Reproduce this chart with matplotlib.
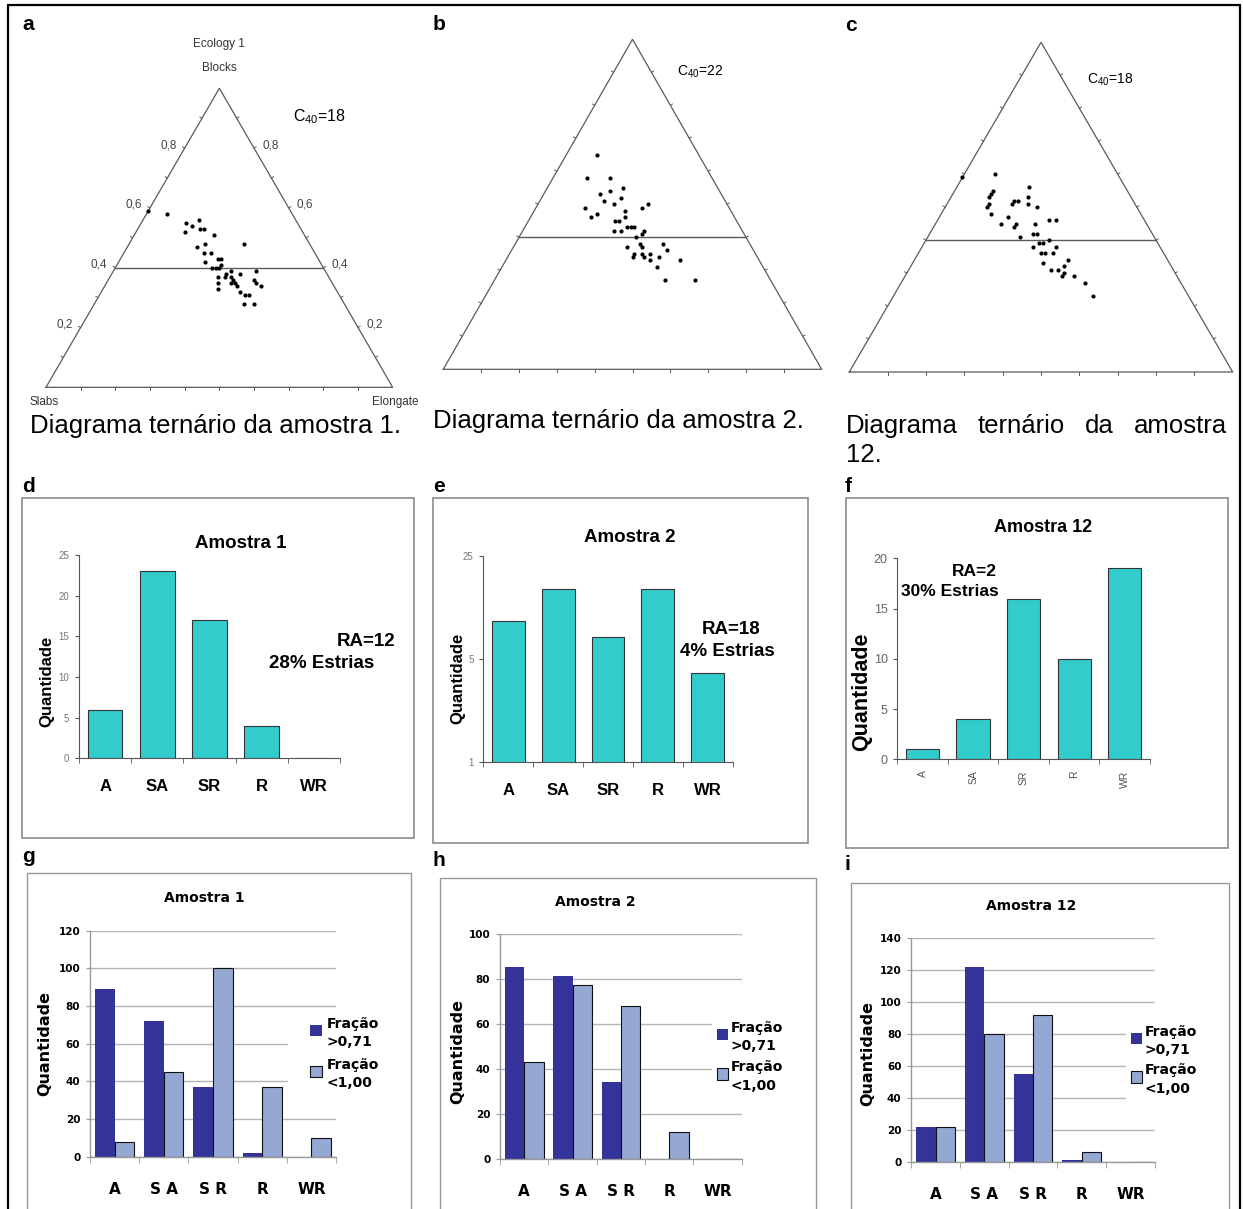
import numpy as np
import matplotlib.pyplot as plt
from matplotlib.patches import Rectangle

W, H = 1243, 1209
plt.rcParams['font.family'] = ['Liberation Sans', 'DejaVu Sans']
plt.rcParams['mathtext.fontset'] = 'custom'
plt.rcParams['mathtext.rm'] = 'Liberation Sans'

# ternary data: fraction of Blocks and Elongate per clast (Slabs = rest)
blocks_1 = [0.59, 0.58, 0.55, 0.56, 0.54, 0.52, 0.53, 0.53, 0.51, 0.48, 0.47, 0.45, 0.45, 0.48,
            0.42, 0.43, 0.43, 0.41, 0.40, 0.40, 0.40, 0.39, 0.38, 0.37, 0.37, 0.37, 0.36, 0.38,
            0.39, 0.35, 0.35, 0.35, 0.34, 0.33, 0.36, 0.35, 0.34, 0.32, 0.31, 0.31, 0.28, 0.28]
elong_1 = [0.00, 0.06, 0.13, 0.16, 0.15, 0.14, 0.18, 0.19, 0.23, 0.22, 0.20, 0.23, 0.25, 0.33,
           0.25, 0.28, 0.29, 0.30, 0.30, 0.28, 0.29, 0.34, 0.33, 0.33, 0.35, 0.31, 0.36, 0.37,
           0.41, 0.32, 0.36, 0.37, 0.38, 0.33, 0.42, 0.43, 0.45, 0.40, 0.42, 0.43, 0.43, 0.46]
blocks_2 = [0.65, 0.58, 0.58, 0.53, 0.54, 0.55, 0.51, 0.50, 0.52, 0.49, 0.47, 0.46, 0.48, 0.49,
            0.50, 0.45, 0.46, 0.45, 0.42, 0.42, 0.43, 0.43, 0.43, 0.42, 0.40, 0.41, 0.38, 0.37,
            0.37, 0.38, 0.36, 0.35, 0.35, 0.35, 0.34, 0.34, 0.34, 0.33, 0.33, 0.31, 0.27, 0.27]
elong_2 = [0.08, 0.09, 0.15, 0.15, 0.17, 0.20, 0.17, 0.20, 0.21, 0.13, 0.17, 0.16, 0.24, 0.28,
           0.29, 0.24, 0.25, 0.23, 0.24, 0.26, 0.27, 0.28, 0.29, 0.32, 0.31, 0.32, 0.33, 0.30,
           0.34, 0.39, 0.41, 0.33, 0.35, 0.37, 0.33, 0.36, 0.40, 0.38, 0.46, 0.41, 0.45, 0.53]
blocks_12 = [0.59, 0.60, 0.55, 0.54, 0.53, 0.51, 0.50, 0.48, 0.45, 0.56, 0.53, 0.52, 0.52, 0.51,
             0.51, 0.50, 0.47, 0.44, 0.45, 0.45, 0.46, 0.46, 0.41, 0.42, 0.42, 0.39, 0.39, 0.40,
             0.38, 0.38, 0.36, 0.36, 0.36, 0.34, 0.33, 0.31, 0.32, 0.31, 0.30, 0.29, 0.29, 0.27, 0.23]
elong_12 = [0.00, 0.08, 0.10, 0.10, 0.10, 0.11, 0.11, 0.13, 0.17, 0.19, 0.20, 0.18, 0.17, 0.17,
            0.21, 0.24, 0.18, 0.21, 0.21, 0.26, 0.29, 0.31, 0.24, 0.27, 0.28, 0.30, 0.31, 0.32,
            0.35, 0.29, 0.32, 0.33, 0.35, 0.40, 0.34, 0.37, 0.40, 0.39, 0.41, 0.41, 0.44, 0.48, 0.52]
c40_values = ['18', '22', '18']

# roundness counts
categories = ['A', 'SA', 'SR', 'R', 'WR']
counts_1 = [6, 23, 17, 4, 0]
counts_2 = [9, 15, 7, 15, 4]
counts_12 = [1, 4, 16, 10, 19]

cat_labels_g = ['A', 'S A', 'S R', 'R', 'WR']
frac_hi_1 = [89, 72, 37, 2, 0]
frac_lo_1 = [8, 45, 100, 37, 10]
frac_hi_2 = [85, 81, 34, 0, 0]
frac_lo_2 = [43, 77, 68, 12, 0]
frac_hi_12 = [22, 122, 55, 1, 0]
frac_lo_12 = [22, 80, 92, 6, 0]
legend_labels = ['Fração\n>0,71', 'Fração\n<1,00']

fig = plt.figure(figsize=(W / 100, H / 100), dpi=100)


def px_axes(x0, y0, x1, y1):
    return fig.add_axes([x0 / W, 1 - y1 / H, (x1 - x0) / W, (y1 - y0) / H])


def ftext(x, y, s, **kw):
    return fig.text(x / W, 1 - y / H, s, **kw)


def frame(x0, y0, x1, y1, color, lw, fill=False, z=2):
    r = Rectangle((x0 / W, 1 - y1 / H), (x1 - x0) / W, (y1 - y0) / H,
                  transform=fig.transFigure, fill=fill, facecolor='white',
                  edgecolor=color if not fill else 'none', lw=lw, zorder=z)
    fig.patches.append(r)


def ternary(box, blocks, elong, c40, c40_xy, c40_size, labels=False):
    x0, ytop, x1, ybase = box
    ax = px_axes(x0, ytop, x1, ybase)
    ax.set_xlim(0, 1)
    ax.set_ylim(0, 1)
    ax.axis('off')
    wpx, hpx = x1 - x0, ybase - ytop
    col = '#5a5a5a'
    ax.plot([0, 0.5, 1, 0], [0, 1, 0, 0], color=col, lw=0.9, clip_on=False)
    ax.plot([0.2, 0.8], [0.4, 0.4], color=col, lw=1.0, clip_on=False)
    L = 2.5
    n = np.hypot(hpx, wpx / 2)
    nx, ny = -hpx / n, (wpx / 2) / n
    for f in np.arange(1, 10) / 10:
        ax.plot([f, f], [0, -L / hpx], color=col, lw=0.7, clip_on=False)
        ax.plot([f / 2, f / 2 + nx * L / wpx], [f, f + ny * L / hpx], color=col, lw=0.7, clip_on=False)
        ax.plot([1 - f / 2, 1 - f / 2 - nx * L / wpx], [f, f + ny * L / hpx], color=col, lw=0.7, clip_on=False)
    if labels:
        for f in [0.2, 0.4, 0.6, 0.8]:
            s = f'{f:.1f}'.replace('.', ',')
            ax.annotate(s, (f / 2, f), xytext=(-8, 3), textcoords='offset pixels',
                        ha='right', va='center', fontsize=8.5, color='#444444')
            ax.annotate(s, (1 - f / 2, f), xytext=(8, 3), textcoords='offset pixels',
                        ha='left', va='center', fontsize=8.5, color='#444444')
    b = np.array(blocks)
    e = np.array(elong)
    ax.plot(e + b / 2, b, 'o', color='black', ms=3.0, mew=0, clip_on=False)
    ftext(c40_xy[0], c40_xy[1], r'C$_{\mathregular{40}}$=' + c40, fontsize=c40_size,
          ha='left', va='center')
    return ax


# ---- row 1: ternary diagrams
ternary((46, 88.3, 392.7, 387.3), blocks_1, elong_1, c40_values[0], (293, 117), 11.5, labels=True)
ternary((443.3, 39.3, 821.7, 369.3), blocks_2, elong_2, c40_values[1], (677, 72), 10)
ternary((849.3, 42.3, 1232.7, 372), blocks_12, elong_12, c40_values[2], (1087, 80), 10)

ftext(219, 44, 'Ecology 1', fontsize=8.5, color='#333333', ha='center', va='center')
ftext(219, 68, 'Blocks', fontsize=8.5, color='#333333', ha='center', va='center')
ftext(29, 402, 'Slabs', fontsize=8.5, color='#333333', ha='left', va='center')
ftext(418, 402, 'Elongate', fontsize=8.5, color='#333333', ha='right', va='center')

cap = dict(fontsize=18.5, va='baseline')
ftext(30, 433, 'Diagrama ternário da amostra 1.', ha='left', **cap)
ftext(433, 428, 'Diagrama ternário da amostra 2.', ha='left', **cap)
# justified caption line for panel c
words = [ftext(846, 433, w, ha='left', **cap) for w in ['Diagrama', 'ternário', 'da', 'amostra']]
renderer = fig.canvas.get_renderer()
widths = [t.get_window_extent(renderer).width for t in words]
gap = (1227 - 846 - sum(widths)) / (len(words) - 1)
xpos = 846
for t, w in zip(words, widths):
    t.set_x(xpos / W)
    xpos += w + gap
ftext(846, 462, '12.', ha='left', **cap)

for s, x, y in [('a', 22, 30), ('b', 433, 30), ('c', 845, 31), ('d', 22, 492), ('e', 433, 492),
                ('f', 845, 492), ('g', 22, 862), ('h', 432, 866), ('i', 845, 870)]:
    ftext(x, y, s, fontsize=15, fontweight='bold', ha='left', va='baseline')


# ---- row 2: turquoise bar charts
def simple_bars(box, counts, yticks, tick_size, tick_color, log=False, rot=False):
    ax = px_axes(*box)
    x = np.arange(len(categories))
    ax.bar(x, counts, width=0.66, color='#33CCCC', edgecolor='#333333', lw=0.8, zorder=2)
    ax.set_xlim(-0.5, len(categories) - 0.5)
    if log:
        ax.set_yscale('log')
        ax.set_ylim(1, yticks[-1])
        ax.yaxis.set_minor_locator(plt.NullLocator())
    else:
        ax.set_ylim(0, yticks[-1])
    ax.set_yticks(yticks)
    ax.set_yticklabels([str(v) for v in yticks])
    for sp in ['top', 'right']:
        ax.spines[sp].set_visible(False)
    for sp in ['left', 'bottom']:
        ax.spines[sp].set_color('#555555')
        ax.spines[sp].set_linewidth(0.8)
        ax.spines[sp].set_zorder(3)
    ax.tick_params(axis='y', length=3, color='#555555', labelsize=tick_size,
                   labelcolor=tick_color, pad=4)
    ax.set_xticks(x)
    ax.set_xticks(np.arange(len(categories) + 1) - 0.5, minor=True)
    ax.tick_params(axis='x', which='minor', length=3.5, color='#555555')
    if rot:
        ax.set_xticklabels(categories, rotation=90, fontsize=7.5, color='#555555')
        ax.tick_params(axis='x', which='major', length=0, pad=8)
    else:
        ax.set_xticklabels(categories, fontsize=12, fontweight='bold')
        ax.tick_params(axis='x', which='major', length=0, pad=15)
    ax.set_facecolor('none')
    return ax


frame(22, 498, 414, 838, '#8c8c8c', 1.2)
frame(433, 498, 808, 843, '#8c8c8c', 1.2)
frame(846, 498, 1228, 848, '#8c8c8c', 1.2)

simple_bars((79, 555, 340, 758.3), counts_1, [0, 5, 10, 15, 20, 25], 7, '#777777')
ftext(241, 543, 'Amostra 1', fontsize=13.5, fontweight='bold', ha='center', va='center')
ftext(47, 681, 'Quantidade', fontsize=12, fontweight='bold', rotation=90, ha='center', va='center')
ftext(395, 641, 'RA=12', fontsize=13.5, fontweight='bold', ha='right', va='center')
ftext(322, 664, '28% Estrias', fontsize=13.5, fontweight='bold', ha='center', va='center')

simple_bars((483.3, 556, 732.7, 761.7), counts_2, [1, 5, 25], 7, '#777777', log=True)
ftext(630, 537, 'Amostra 2', fontsize=13.5, fontweight='bold', ha='center', va='center')
ftext(458, 678, 'Quantidade', fontsize=12, fontweight='bold', rotation=90, ha='center', va='center')
ftext(731, 630, 'RA=18', fontsize=13.5, fontweight='bold', ha='center', va='center')
ftext(727, 652, '4% Estrias', fontsize=13.5, fontweight='bold', ha='center', va='center')

simple_bars((897.3, 558.3, 1150, 759.3), counts_12, [0, 5, 10, 15, 20], 9, '#666666', rot=True)
ftext(1043, 527, 'Amostra 12', fontsize=13, fontweight='bold', ha='center', va='center')
ftext(862, 692, 'Quantidade', fontsize=15.5, fontweight='bold', rotation=90, ha='center', va='center')
ftext(997, 571, 'RA=2', fontsize=12.5, fontweight='bold', ha='right', va='center')
ftext(999, 592, '30% Estrias', fontsize=12.5, fontweight='bold', ha='right', va='center')


# ---- row 3: grouped bars by fraction
BF = ['DejaVu Sans']


def grouped_bars(box, hi, lo, ymax, title_xy, title, ylab_xy, xlab_pad, leg):
    ax = px_axes(*box)
    x = np.arange(len(cat_labels_g))
    ax.bar(x - 0.2, hi, width=0.4, color='#333399', edgecolor='none', zorder=2)
    ax.bar(x + 0.2, lo, width=0.4, color='#95A8D3', edgecolor='#111111', lw=0.8, zorder=2)
    ax.set_xlim(-0.5, len(cat_labels_g) - 0.5)
    ax.set_ylim(0, ymax)
    ax.set_yticks(np.arange(0, ymax + 1, 20))
    ax.set_axisbelow(True)
    ax.yaxis.grid(True, color='#b5b5b5', lw=1.0)
    for sp in ['top', 'right']:
        ax.spines[sp].set_visible(False)
    for sp in ['left', 'bottom']:
        ax.spines[sp].set_color('#999999')
        ax.spines[sp].set_linewidth(1.0)
    ax.tick_params(axis='y', length=3, color='#999999', labelsize=7.5, pad=4)
    for t in ax.get_yticklabels():
        t.set_fontweight('bold')
        t.set_family(BF)
    ax.set_xticks(x)
    ax.set_xticklabels(cat_labels_g, fontsize=11, fontweight='bold', family=BF)
    ax.tick_params(axis='x', which='major', length=0, pad=xlab_pad)
    ax.set_xticks(np.arange(len(cat_labels_g) + 1) - 0.5, minor=True)
    ax.tick_params(axis='x', which='minor', length=4.5, color='#999999')
    ax.set_facecolor('none')
    ftext(title_xy[0], title_xy[1], title, fontsize=10, fontweight='bold', family=BF,
          ha='center', va='center')
    ftext(ylab_xy[0], ylab_xy[1], 'Quantidade', fontsize=11.5, fontweight='bold', family=BF,
          rotation=90, ha='center', va='center')
    # legend (white box hides the grid behind it, as in the original)
    hx, y1, y2, tx, bx0, by0, bx1, by1 = leg
    frame(bx0, by0, bx1, by1, 'none', 0, fill=True, z=1)
    for (yy, col, ec), lab in zip([(y1, '#333399', 'none'), (y2, '#95A8D3', '#111111')], legend_labels):
        fig.patches.append(Rectangle((hx / W, 1 - (yy + 6) / H), 11.5 / W, 11.5 / H,
                                     transform=fig.transFigure, facecolor=col, edgecolor=ec,
                                     lw=0.8, zorder=3))
        ftext(tx, yy + 3, lab, fontsize=10, fontweight='bold', family=BF, ha='left',
              va='center', linespacing=1.45, zorder=3)
    return ax


frame(27, 873, 411, 1220, '#999999', 1.0)
frame(440, 878, 816, 1220, '#999999', 1.0)
frame(851, 883, 1229, 1220, '#999999', 1.0)

grouped_bars((90, 930.7, 336, 1156.7), frac_hi_1, frac_lo_1, 120, (204, 898), 'Amostra 1',
             (45, 1043), 18, (310, 1030, 1071, 326.7, 288, 1015, 392, 1105))
grouped_bars((500, 933.7, 741.7, 1158.7), frac_hi_2, frac_lo_2, 100, (595, 902), 'Amostra 2',
             (458, 1052), 18, (716.7, 1034, 1073.5, 731, 712, 1018, 800, 1105))
grouped_bars((911.3, 938.3, 1154.7, 1161.7), frac_hi_12, frac_lo_12, 140, (1031, 906), 'Amostra 12',
             (868, 1053), 18, (1130.7, 1038, 1076.5, 1144.7, 1126, 1020, 1215, 1113))

# outer border
frame(7.5, 5.5, 1240, 1225, 'black', 1.6, z=4)

fig.savefig('out.png', dpi=100)
